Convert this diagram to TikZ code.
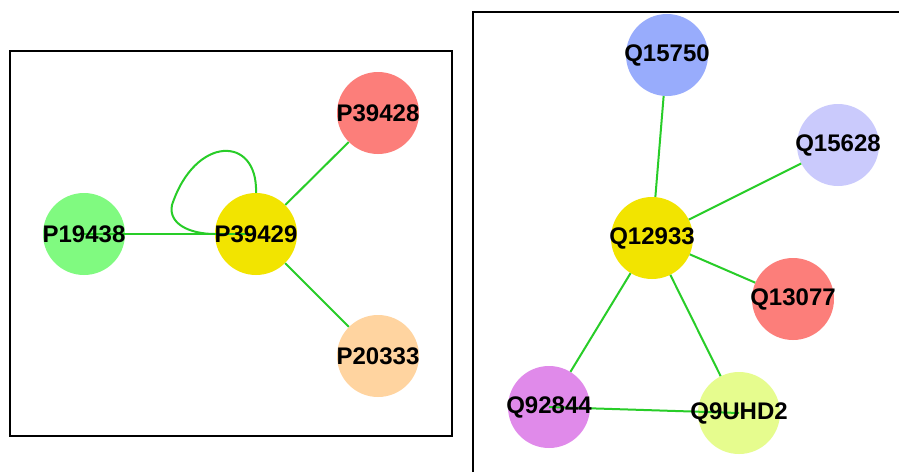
\documentclass[tikz,border=0pt]{standalone}
\usepackage{fontspec}
\setmainfont{Liberation Sans}
\definecolor{edgegreen}{RGB}{40,205,40}
\definecolor{cyel}{RGB}{242,228,0}
\definecolor{cred}{RGB}{252,126,122}
\definecolor{cgreen}{RGB}{128,250,128}
\definecolor{cpeach}{RGB}{255,212,160}
\definecolor{cblue}{RGB}{152,172,252}
\definecolor{clav}{RGB}{202,202,252}
\definecolor{cpurple}{RGB}{224,138,234}
\definecolor{clime}{RGB}{230,252,142}
\begin{document}
\begin{tikzpicture}[x=1pt,y=-1pt,
  prot/.style={circle,minimum size=82pt,inner sep=0pt},
  lbl/.style={inner sep=0pt,font=\fontsize{24}{24}\selectfont\bfseries},
  link/.style={draw=edgegreen,line width=2pt},
  frame/.style={draw=black,line width=2.6pt}]
\useasboundingbox (0,0) rectangle (899,472);
\fill[white] (0,0) rectangle (899,472);
% frames
\draw[frame] (10,51) rectangle (452,436);
\draw[frame] (473,472) -- (473,12) -- (899,12);
% left panel nodes
\node[prot,fill=cred]   (P39428) at (378,113) {};
\node[prot,fill=cyel]   (P39429) at (256,234) {};
\node[prot,fill=cgreen] (P19438) at (84,234) {};
\node[prot,fill=cpeach] (P20333) at (378,356) {};
% left panel edges
\draw[link] (P19438.center) -- (P39429.center);
\draw[link] (P39429) -- (P39428);
\draw[link] (P39429) -- (P20333);
\draw[link] (P39429.north) .. controls (258,135) and (195,135) .. (172,205)
  .. controls (168,224) and (190,234) .. (P39429.west);
\node[lbl] (P39428t) at (P39428.center) {P39428};
\node[lbl] (P20333t) at (P20333.center) {P20333};
\node[lbl] (P19438t) at (P19438.center) {P19438};
\node[lbl] (P39429t) at (P39429.center) {P39429};
% right panel nodes
\node[prot,fill=cblue]   (Q15750) at (667,55)  {};
\node[prot,fill=clav]    (Q15628) at (838,145) {};
\node[prot,fill=cyel]    (Q12933) at (652,238) {};
\node[prot,fill=cred]    (Q13077) at (793,299) {};
\node[prot,fill=cpurple] (Q92844) at (549,407) {};
\node[prot,fill=clime]   (Q9UHD2) at (739,413) {};
% right panel edges
\draw[link] (Q12933) -- (Q15750);
\draw[link] (Q12933) -- (Q15628);
\draw[link] (Q12933) -- (Q13077);
\draw[link] (Q12933) -- (Q92844);
\draw[link] (Q12933) -- (Q9UHD2);
\draw[link] (Q92844.center) -- (Q9UHD2.center);
\node[lbl] (Q15750t) at (Q15750.center) {Q15750};
\node[lbl] (Q15628t) at (Q15628.center) {Q15628};
\node[lbl] (Q12933t) at (Q12933.center) {Q12933};
\node[lbl] (Q13077t) at (Q13077.center) {Q13077};
\node[lbl] (Q92844t) at (Q92844.center) {Q92844};
\node[lbl] (Q9UHD2t) at (Q9UHD2.center) {Q9UHD2};
\end{tikzpicture}
\end{document}
